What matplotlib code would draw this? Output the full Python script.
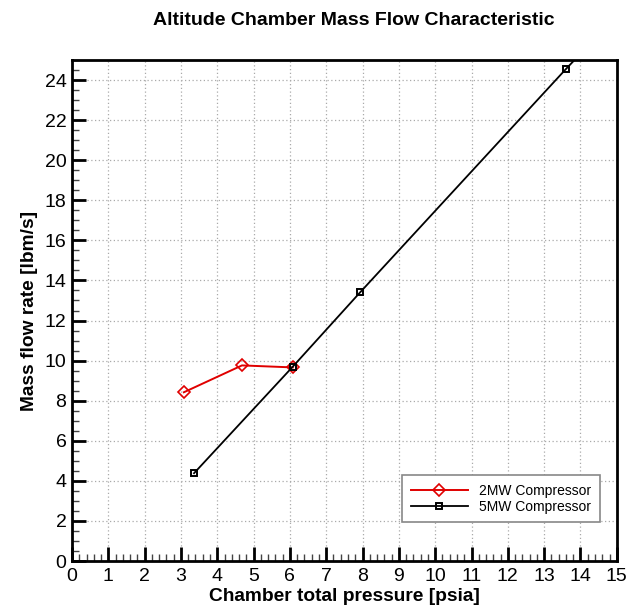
import matplotlib
matplotlib.use("Agg")
import matplotlib.pyplot as plt
from matplotlib.ticker import MultipleLocator

plt.rcParams['font.family'] = ['Liberation Sans', 'DejaVu Sans']

# 2MW compressor
p_2mw = [3.08, 4.68, 6.08]
m_2mw = [8.42, 9.76, 9.66]

# 5MW compressor (last point lies beyond the axes, line gets clipped)
p_5mw = [3.36, 6.08, 7.93, 13.6, 14.1]
m_5mw = [4.38, 9.70, 13.40, 24.55, 25.5]

fig = plt.figure(figsize=(6.3, 6.08), dpi=100)
ax = fig.add_axes([0.1143, 0.0773, 0.8647, 0.824])

ax.plot(p_2mw, m_2mw, color='#e00000', lw=1.4, marker='D', markersize=6,
        mfc='none', mec='#e00000', mew=1.2, label='2MW Compressor', zorder=3)
ax.plot(p_5mw, m_5mw, color='black', lw=1.3, marker='s', markersize=4.5,
        mfc='none', mec='black', mew=1.4, label='5MW Compressor', zorder=3)

ax.set_xlim(0, 15)
ax.set_ylim(0, 25)
ax.xaxis.set_major_locator(MultipleLocator(1))
ax.xaxis.set_minor_locator(MultipleLocator(0.2))
ax.yaxis.set_major_locator(MultipleLocator(2))
ax.yaxis.set_minor_locator(MultipleLocator(0.5))
ax.tick_params(which='major', direction='in', length=10, width=2, labelsize=14)
ax.tick_params(axis='y', which='major', pad=4)
ax.tick_params(axis='x', which='major', pad=5)
ax.tick_params(which='minor', direction='in', length=5, width=1, color='#444444')
ax.grid(which='major', color='#aaaaaa', linestyle=(0, (1, 2)), linewidth=0.9)
for s in ax.spines.values():
    s.set_linewidth(2)

ax.set_xlabel('Chamber total pressure [psia]', fontsize=13.8, fontweight='bold', labelpad=2)
ax.set_ylabel('Mass flow rate [lbm/s]', fontsize=13.8, fontweight='bold', labelpad=5)
ax.set_title('Altitude Chamber Mass Flow Characteristic', fontsize=14,
             fontweight='bold', pad=25, x=0.518)

leg = ax.legend(loc='lower right', bbox_to_anchor=(0.969, 0.078), fontsize=10,
                handlelength=4.1, handletextpad=0.85, fancybox=False, framealpha=1,
                edgecolor='#888888', borderpad=0.6, labelspacing=0.15,
                borderaxespad=0)
leg.get_frame().set_linewidth(1.2)

fig.savefig('out.png', dpi=100)
